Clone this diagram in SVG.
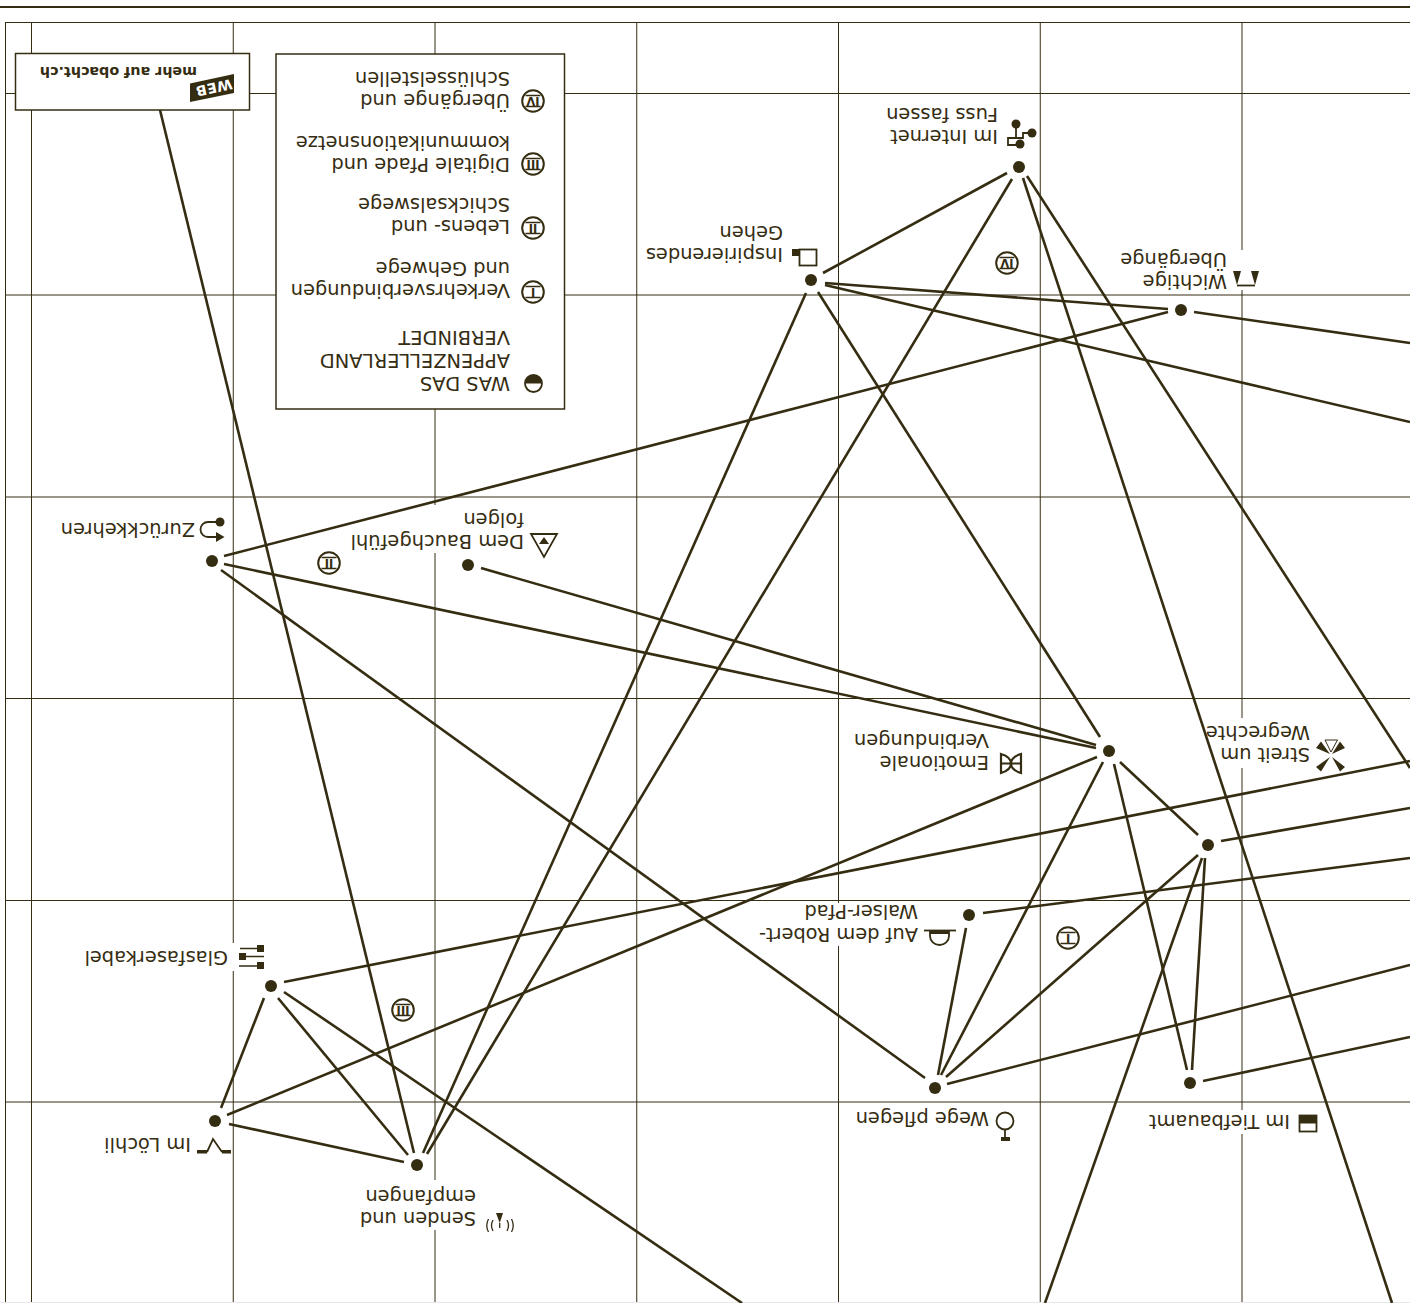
<svg xmlns="http://www.w3.org/2000/svg" width="1410" height="1303" viewBox="0 0 1410 1303">
<style>
text{font-family:"DejaVu Sans",sans-serif;font-size:19.400px;fill:#352d12}
.g{stroke:#352d12;stroke-width:1;fill:none}
.c{stroke:#352d12;stroke-width:2.600;fill:none}
.d{fill:#352d12}
.o{fill:#fff;stroke:#352d12;stroke-width:1.800}
.l{fill:none;stroke:#352d12;stroke-width:1.800}
.w{fill:#fff}
.n{font-size:11.500px;font-weight:700;text-anchor:middle}
.b{font-weight:700;font-size:14.300px}
.f{font-weight:700;font-size:14px;letter-spacing:.5px}
</style>
<defs>
<g id="ring"><circle r="10.800" fill="#fff" stroke="#352d12" stroke-width="2"/><path d="M-7.500,-5.500H7.500M-7.500,5.500H7.500" stroke="#352d12" stroke-width="1.700"/></g>
</defs>
<rect width="1410" height="1303" fill="#fff"/>
<g id="grid">
<path d="M0,7H1410" stroke="#352d12" stroke-width="2"/>
<path class="g" d="M5.500,22V1303M5,22.500H1410M31.500,22V1303M233.250,22V1303M435,22V1303M636.750,22V1303M838.500,22V1303M1040.250,22V1303M1242,22V1303"/>
<path class="g" d="M5,93.500H1410M5,295H1410M5,497H1410M5,698.500H1410M5,900.500H1410M5,1102H1410"/>
<path d="M0,1302.500H1410" stroke="#e8e8e8"/>
</g>
<g id="legend">
<rect x="276" y="54" width="288.500" height="355" fill="#fff" stroke="#352d12" stroke-width="1.500"/>
<circle cx="533.500" cy="383.500" r="8.500" class="o"/><path class="d" d="M525,383.500A8.500,8.500 0 0 1 542,383.500Z"/>
<text transform="translate(510,377) rotate(180)">WAS DAS</text>
<text transform="translate(510,354) rotate(180)">APPENZELLERLAND</text>
<text transform="translate(510,331) rotate(180)">VERBINDET</text>
<g transform="translate(533,292) rotate(180)"><use href="#ring"/><text class="n" y="4">I</text></g>
<text transform="translate(510,284) rotate(180)">Verkehrsverbindungen</text>
<text transform="translate(510,261.500) rotate(180)">und Gehwege</text>
<g transform="translate(533,228) rotate(180)"><use href="#ring"/><text class="n" y="4">II</text></g>
<text transform="translate(510,220) rotate(180)">Lebens- und</text>
<text transform="translate(510,197.500) rotate(180)">Schicksalswege</text>
<g transform="translate(533,164) rotate(180)"><use href="#ring"/><text class="n" y="4">III</text></g>
<text transform="translate(510,158) rotate(180)">Digitale Pfade und</text>
<text transform="translate(510,135.500) rotate(180)">kommunikationsnetze</text>
<g transform="translate(533,101) rotate(180)"><use href="#ring"/><text class="n" y="4">IV</text></g>
<text transform="translate(510,94) rotate(180)">Übergänge und</text>
<text transform="translate(510,71.500) rotate(180)">Schlüsselstellen</text>
</g>
<g id="web">
<rect x="15.500" y="53.500" width="234" height="56.500" fill="#fff" stroke="#352d12" stroke-width="1.500"/>
<polygon class="d" points="190,83.500 234,74 234,93 190,102"/>
<text class="f" style="fill:#fff" transform="translate(231,79) rotate(167.800)">WEB</text>
<text class="b" transform="translate(197,67) rotate(180)">mehr auf obacht.ch</text>
</g>
<g id="node-internet">
<rect class="w" x="885" y="105" width="154" height="50"/>
<circle class="d" cx="1019" cy="167" r="6"/>
<path class="l" d="M1032,133H1023V138H1008V145H1020M1016,124V138"/>
<circle class="d" cx="1016" cy="124" r="4.500"/><circle class="d" cx="1032" cy="133" r="4.500"/><circle class="d" cx="1020" cy="144" r="4.500"/>
<text transform="translate(998,130) rotate(180)">Im Internet</text>
<text transform="translate(998,107.500) rotate(180)">Fuss fassen</text>
</g>
<g id="node-inspirierend">
<circle class="d" cx="811" cy="280" r="6"/>
<rect class="o" x="799.500" y="249.500" width="17" height="16"/><rect class="d" x="792" y="249" width="7.500" height="7"/>
<text transform="translate(783,248) rotate(180)">Inspirierendes</text>
<text transform="translate(783,225.500) rotate(180)">Gehen</text>
</g>
<g id="node-wichtig">
<rect class="w" x="1120" y="263" width="142" height="24"/>
<rect class="w" x="1225" y="250" width="30" height="40"/>
<circle class="d" cx="1181" cy="310" r="6"/>
<path class="l" d="M1237,285.500H1255"/>
<polygon class="d" points="1233,271 1241,271 1237,285"/><polygon class="d" points="1251,271 1259,271 1255,285"/>
<text transform="translate(1227,275) rotate(180)">Wichtige</text>
<text transform="translate(1227,252.500) rotate(180)">Übergänge</text>
</g>
<g id="node-zurueck">
<circle class="d" cx="212" cy="561" r="6"/>
<path class="l" d="M218,522H208A7.500,7.500 0 0 0 208,537H217"/>
<circle class="d" cx="220" cy="522" r="4.500"/><polygon class="d" points="216,532 216,542 224.500,537"/>
<text transform="translate(195,523) rotate(180)">Zurückkehren</text>
</g>
<g id="node-bauch">
<rect class="w" x="350" y="505" width="210" height="48"/>
<circle class="d" cx="468" cy="565" r="6"/>
<polygon class="o" points="531,534 557,534 544,557"/><polygon class="d" points="544,537 539,544 549,544"/>
<text transform="translate(524,535) rotate(180)">Dem Bauchgefühl</text>
<text transform="translate(524,512.500) rotate(180)">folgen</text>
</g>
<g id="node-emotional">
<rect class="w" x="850" y="725" width="175" height="50"/>
<circle class="d" cx="1109" cy="751" r="6"/>
<path class="l" style="stroke-width:2.200" d="M1001,754V773Q1011,770 1011,763.500Q1011,757 1001,754ZM1021,754V773Q1011,770 1011,763.500Q1011,757 1021,754ZM1001,763.500H1021"/>
<text transform="translate(989,756) rotate(180)">Emotionale</text>
<text transform="translate(989,733.500) rotate(180)">Verbindungen</text>
</g>
<g id="node-streit">
<rect class="w" x="1205" y="718" width="145" height="50"/>
<circle class="d" cx="1208" cy="845" r="6"/>
<polygon class="o" style="stroke-width:1" points="1325,740 1337.500,740 1331,752"/>
<polygon class="d" points="1316,748 1321,741.500 1330,754"/><polygon class="d" points="1345,748 1340,741.500 1332,754"/>
<polygon class="d" points="1316,767 1321,771.500 1330,757"/><polygon class="d" points="1345,767 1340,771.500 1332,757"/>
<text transform="translate(1310,748) rotate(180)">Streit um</text>
<text transform="translate(1310,725.500) rotate(180)">Wegrechte</text>
</g>
<g id="node-robert">
<rect class="w" x="765" y="903" width="195" height="43"/>
<circle class="d" cx="969" cy="915" r="6"/>
<path class="l" d="M924,930.500H956"/>
<path class="l" d="M930,931V936A9.500,9 0 0 0 949,936V931"/><rect class="d" x="930" y="930" width="19" height="4"/>
<text transform="translate(918,927.500) rotate(180)">Auf dem Robert-</text>
<text transform="translate(918,905) rotate(180)">Walser-Pfad</text>
</g>
<g id="node-wege">
<circle class="d" cx="935" cy="1088" r="6"/>
<circle class="o" cx="1005" cy="1121" r="8.500"/><path class="l" d="M1005,1129V1138"/><rect class="d" x="1001" y="1137" width="9" height="4"/>
<text transform="translate(989,1112) rotate(180)">Wege pflegen</text>
</g>
<g id="node-tiefbau">
<rect class="w" x="1150" y="1110" width="170" height="24"/>
<circle class="d" cx="1190" cy="1083" r="6"/>
<rect class="o" x="1299.500" y="1115.500" width="17" height="16"/><rect class="d" x="1299" y="1115" width="18" height="8.500"/>
<text transform="translate(1290,1115) rotate(180)">Im Tiefbauamt</text>
</g>
<g id="node-glas">
<rect class="w" x="85" y="943" width="182" height="28"/>
<circle class="d" cx="271" cy="986" r="6"/>
<path class="l" style="stroke-width:1.300" d="M240,948.500H263M243,956.500H264M239,966H263"/>
<rect class="d" x="257" y="945" width="7" height="7"/><rect class="d" x="239" y="953" width="7" height="7"/><rect class="d" x="257" y="962" width="7" height="7"/>
<text transform="translate(228,951) rotate(180)">Glasfaserkabel</text>
</g>
<g id="node-loechli">
<circle class="d" cx="215" cy="1121" r="6"/>
<path class="l" d="M207,1152L213,1139L222,1152"/><rect class="d" x="197" y="1150" width="10" height="3.500"/><rect class="d" x="222" y="1150" width="9" height="3.500"/>
<text transform="translate(191,1138) rotate(180)">Im Löchli</text>
</g>
<g id="node-senden">
<rect class="w" x="360" y="1180" width="155" height="50"/>
<circle class="d" cx="417" cy="1165" r="6"/>
<polygon class="d" points="496,1213 503,1213 499.700,1223"/>
<path class="l" style="stroke-width:1.300" d="M499.700,1223V1228M493,1220Q490,1225.500 493,1231M488.500,1219Q485,1225.500 488.500,1232M507,1220Q510,1225.500 507,1231M511.500,1219Q515,1225.500 511.500,1232"/>
<text transform="translate(476,1212) rotate(180)">Senden und</text>
<text transform="translate(476,1189.500) rotate(180)">empfangen</text>
</g>
<g id="connectors">
<g class="c">
<path d="M1007,173L823,273"/>
<path d="M1012,179L427,1154"/>
<path d="M806,293L423,1153"/>
<path d="M818,292L1100,737"/>
<path d="M825,283L1168,309"/>
<path d="M825,285L1410,422"/>
<path d="M1194,312L1410,343"/>
<path d="M1168,312L224,556"/>
<path d="M1023,178L1392,1303"/>
<path d="M1027,176L1410,768"/>
<path d="M224,564L1096,748"/>
<path d="M221,570L925,1078"/>
<path d="M481,568L1096,745"/>
<path d="M1097,757L227,1115"/>
<path d="M1103,762L941,1075"/>
<path d="M1120,762L1198,835"/>
<path d="M1114,764L1187,1070"/>
<path d="M1198,855L946,1077"/>
<path d="M1205,858L1192,1070"/>
<path d="M1202,858L1045,1303"/>
<path d="M1221,841L1410,808"/>
<path d="M284,982L1410,761"/>
<path d="M983,913L1410,858"/>
<path d="M966,928L938,1075"/>
<path d="M947,1084L1410,965"/>
<path d="M1203,1081L1410,1037"/>
<path d="M264,998L221,1108"/>
<path d="M278,998L408,1155"/>
<path d="M284,992L742,1303"/>
<path d="M229,1124L404,1162"/>
<path d="M160,110L414,1153"/>
</g>
</g>
<g id="marks">
<g transform="translate(1068,938) rotate(180)"><use href="#ring"/><text class="n" y="4">I</text></g>
<g transform="translate(329,563) rotate(180)"><use href="#ring"/><text class="n" y="4">II</text></g>
<g transform="translate(403,1010) rotate(180)"><use href="#ring"/><text class="n" y="4">III</text></g>
<g transform="translate(1007,263) rotate(180)"><use href="#ring"/><text class="n" y="4">IV</text></g>
</g>
</svg>
